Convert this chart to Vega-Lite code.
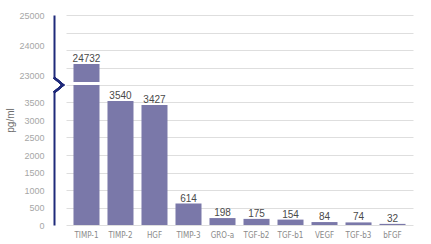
{
  "$schema": "https://vega.github.io/schema/vega-lite/v6.json",
  "width": 347,
  "height": 210,
  "autosize": {"type": "none"},
  "padding": {"left": 66, "top": 15, "right": 18, "bottom": 19},
  "background": "white",
  "config": {
    "view": {"stroke": null},
    "font": "Liberation Sans",
    "axisX": {
      "labelAngle": 0,
      "labelColor": "#8a8a8a",
      "labelFont": "'DejaVu Sans Condensed', 'Liberation Sans', sans-serif",
      "labelFontSize": 8,
      "labelPadding": 6,
      "ticks": false,
      "domain": false,
      "grid": false,
      "title": null
    }
  },
  "data": {
    "values": [
      {"name": "TIMP-1", "value": 24732},
      {"name": "TIMP-2", "value": 3540},
      {"name": "HGF", "value": 3427},
      {"name": "TIMP-3", "value": 614},
      {"name": "GRO-a", "value": 198},
      {"name": "TGF-b2", "value": 175},
      {"name": "TGF-b1", "value": 154},
      {"name": "VEGF", "value": 84},
      {"name": "TGF-b3", "value": 74},
      {"name": "bFGF", "value": 32}
    ]
  },
  "encoding": {
    "x": {
      "field": "name",
      "type": "nominal",
      "sort": null,
      "scale": {"paddingInner": 0.235, "paddingOuter": 0.22},
      "axis": {"title": null}
    }
  },
  "layer": [
    {
      "mark": {"type": "point", "opacity": 0},
      "encoding": {
        "y": {
          "field": "value",
          "type": "quantitative",
          "scale": {"domain": [0, 6000], "clamp": true},
          "axis": {
            "orient": "left",
            "values": [0, 500, 1000, 1500, 2000, 2500, 3000, 3500, 4000, 4500, 5000, 5500, 6000],
            "grid": true,
            "gridColor": "#dedede",
            "gridWidth": 1,
            "labels": false,
            "ticks": false,
            "domain": false,
            "title": null
          }
        }
      }
    },
    {
      "mark": {"type": "point", "opacity": 0},
      "encoding": {
        "y": {
          "field": "value",
          "type": "quantitative",
          "scale": {"domain": [0, 3500, 23000, 25000], "range": [210, 87.5, 60, 0]},
          "axis": {
            "orient": "left",
            "offset": 12,
            "format": "d",
            "values": [0, 500, 1000, 1500, 2000, 2500, 3000, 3500, 23000, 24000, 25000],
            "grid": false,
            "ticks": false,
            "domainColor": "#1f2a7a",
            "domainWidth": 2,
            "labelColor": "#a6a6a6",
            "labelFontSize": 9,
            "labelPadding": 10,
            "labelOverlap": false,
            "title": "pg/ml",
            "titleColor": "#6e6e6e",
            "titleFontSize": 10,
            "titleFontWeight": "normal",
            "titlePadding": 3
          }
        }
      }
    },
    {
      "layer": [
        {
          "mark": {"type": "bar", "color": "#7a78a9"},
          "encoding": {
            "y": {
              "field": "value",
              "type": "quantitative",
              "scale": {"domain": [0, 4000, 23000, 25000], "range": [210, 70, 67, 36]},
              "axis": null
            }
          }
        },
        {
          "mark": {"type": "bar", "color": "white"},
          "encoding": {
            "x": {"datum": "TIMP-1", "type": "nominal"},
            "y": {"datum": 4000, "type": "quantitative", "axis": null},
            "y2": {"datum": 23000}
          }
        },
        {
          "mark": {"type": "point", "shape": "M -3.4 -0.75 L -3.1 -0.75 L -3.1 0.75 L -3.4 0.75 Z", "size": 400, "filled": true, "color": "white", "opacity": 1, "strokeWidth": 0},
          "encoding": {
            "x": {"datum": "TIMP-1", "type": "nominal"},
            "y": {"datum": 4000, "type": "quantitative", "axis": null}
          }
        },
        {
          "mark": {"type": "point", "shape": "M -3.25 -0.75 L -2.35 0 L -3.25 0.75", "size": 400, "filled": false, "stroke": "#1f2a7a", "strokeWidth": 2, "opacity": 1},
          "encoding": {
            "x": {"datum": "TIMP-1", "type": "nominal"},
            "y": {"datum": 4000, "type": "quantitative", "axis": null}
          }
        },
        {
          "mark": {"type": "text", "baseline": "alphabetic", "dy": -2, "fontSize": 10, "color": "#4a4a4a"},
          "encoding": {
            "y": {"field": "value", "type": "quantitative", "axis": null},
            "text": {"field": "value", "type": "quantitative", "format": "d"}
          }
        }
      ]
    }
  ],
  "resolve": {"scale": {"y": "independent"}}
}
